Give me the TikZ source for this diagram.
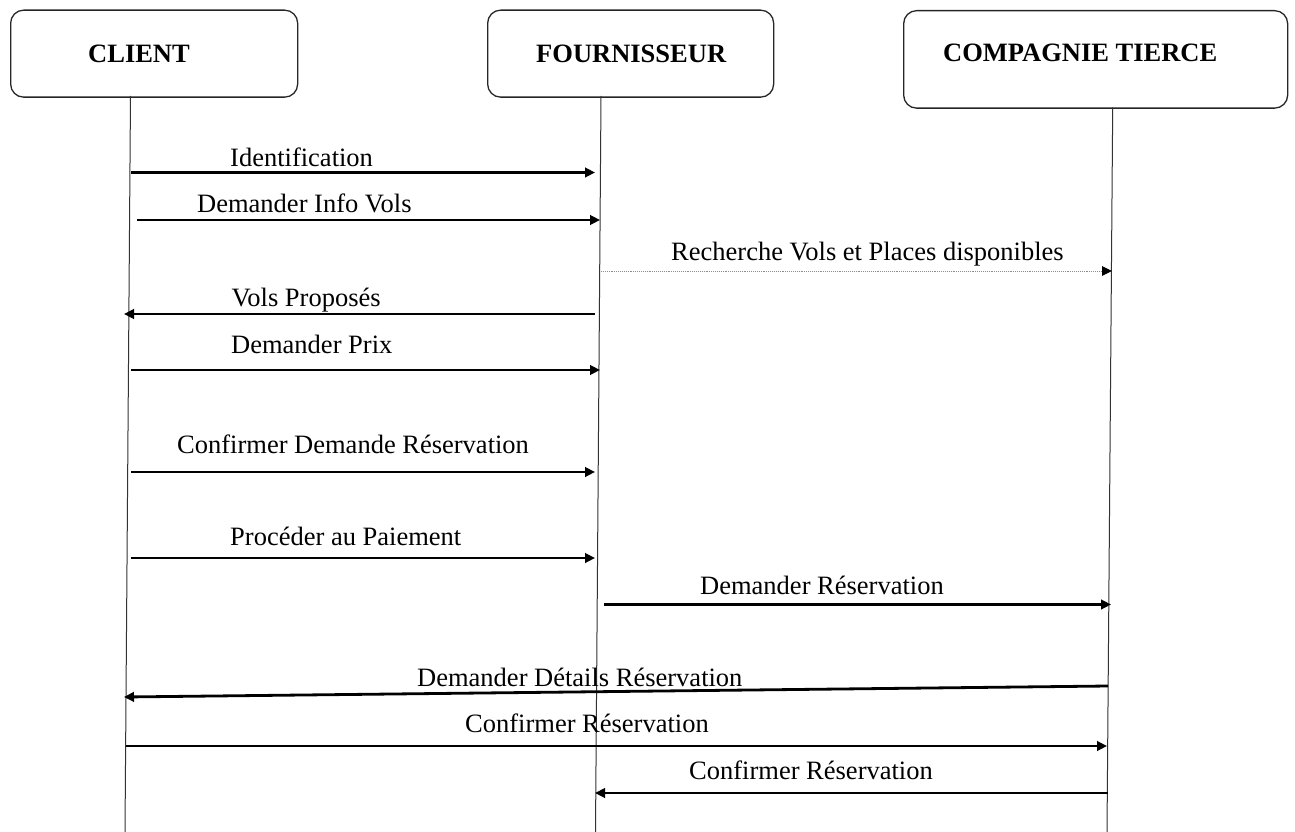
\documentclass[tikz,border=0pt]{standalone}
\usepackage{fontspec}
\setmainfont{Liberation Serif}
\usetikzlibrary{arrows.meta}
\begin{document}
\begin{tikzpicture}[x=1pt,y=-1pt,
  actor/.style={draw=black!85, line width=1.3pt, rounded corners=13pt, anchor=north west, inner sep=0pt},
  title/.style={font=\fontsize{26.5}{30}\selectfont\bfseries, inner sep=0pt, anchor=base west},
  lbl/.style={font=\fontsize{26.5}{30}\selectfont, inner sep=0pt, anchor=base west},
  life/.style={draw=black!80, line width=1pt},
  msg/.style={draw=black, line width=2.8pt, -{Triangle[length=10pt,width=9.5pt]}},
  dmsg/.style={draw=black!45, line width=0.9pt, densely dotted, -{Triangle[length=10pt,width=9.5pt,color=black,fill=black]}},
]
\useasboundingbox (0,0) rectangle (1295,832);
\fill[white] (0,0) rectangle (1295,832);

% participant boxes
\node[actor, minimum width=287pt, minimum height=87pt] (client) at (10,9.5) {};
\node[actor, minimum width=286pt, minimum height=87pt] (fourn) at (487,9.5) {};
\node[actor, minimum width=384pt, minimum height=97.5pt] (tierce) at (903,10) {};
\node[title] (tclient) at (88,63) {CLIENT};
\node[title] (tfourn) at (536,63) {FOURNISSEUR};
\node[title] (ttierce) at (943,62) {COMPAGNIE TIERCE};

% lifelines
\coordinate (cT) at (130.5,96);  \coordinate (cB) at (125,832);
\coordinate (fT) at (601,96);    \coordinate (fB) at (595.5,832);
\coordinate (tT) at (1112.7,107.5);\coordinate (tB) at (1107,832);
\draw[life] (cT) -- (cB);
\draw[life] (fT) -- (fB);
\draw[life] (tT) -- (tB);

% messages
\coordinate (m1a) at (131,172.5);  \coordinate (m1b) at (595,172.5);
\coordinate (m2a) at (137,220);    \coordinate (m2b) at (600,220);
\coordinate (m3a) at (601,271);    \coordinate (m3b) at (1112,271);
\coordinate (m4a) at (595,314);    \coordinate (m4b) at (124,314);
\coordinate (m5a) at (131,370);    \coordinate (m5b) at (600,370);
\coordinate (m6a) at (131,472);    \coordinate (m6b) at (595,472);
\coordinate (m7a) at (131,558);    \coordinate (m7b) at (595,558);
\coordinate (m8a) at (604,604.5);  \coordinate (m8b) at (1111,604.5);
\coordinate (m9a) at (1108,686);   \coordinate (m9b) at (124,697);
\coordinate (m10a) at (126,746);   \coordinate (m10b) at (1107,746);
\coordinate (m11a) at (1108,793);  \coordinate (m11b) at (595,793);

\draw[msg]  (m1a) -- (m1b);
\draw[msg]  (m2a) -- (m2b);
\draw[dmsg] (m3a) -- (m3b);
\draw[msg]  (m4a) -- (m4b);
\draw[msg]  (m5a) -- (m5b);
\draw[msg]  (m6a) -- (m6b);
\draw[msg]  (m7a) -- (m7b);
\draw[msg]  (m8a) -- (m8b);
\draw[msg]  (m9a) -- (m9b);
\draw[msg]  (m10a) -- (m10b);
\draw[msg]  (m11a) -- (m11b);

% message labels
\node[lbl] (l1) at (230,166) {Identification};
\node[lbl] (l2) at (197,212.5) {Demander Info Vols};
\node[lbl] (l3) at (671,260.5) {Recherche Vols et Places disponibles};
\node[lbl] (l4) at (231.5,306.5) {Vols Proposés};
\node[lbl] (l5) at (231,353) {Demander Prix};
\node[lbl] (l6) at (177,453) {Confirmer Demande Réservation};
\node[lbl] (l7) at (230,545) {Procéder au Paiement};
\node[lbl] (l8) at (700,594) {Demander Réservation};
\node[lbl] (l9) at (417,686) {Demander Détails Réservation};
\node[lbl] (l10) at (465,732.5) {Confirmer Réservation};
\node[lbl] (l11) at (689,779.5) {Confirmer Réservation};
\end{tikzpicture}
\end{document}
